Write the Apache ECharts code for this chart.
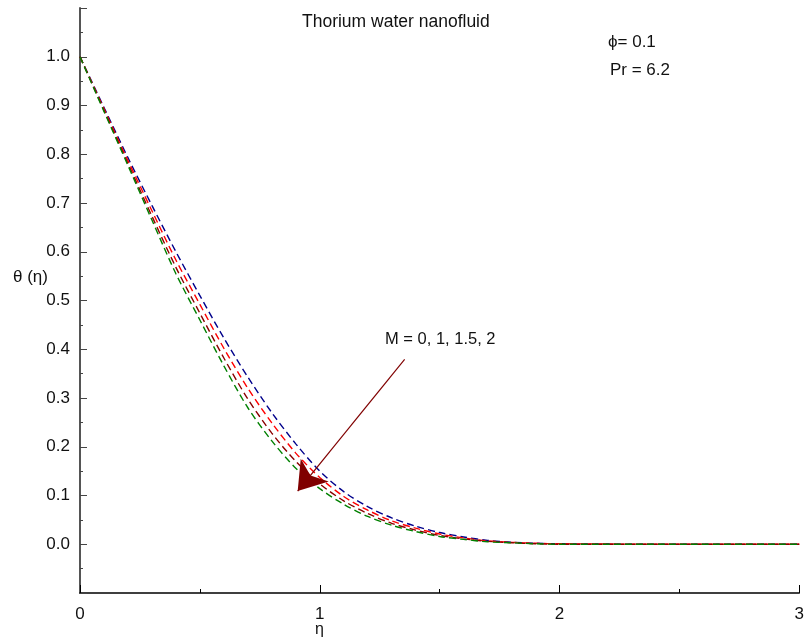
<!DOCTYPE html>
<html>
<head>
<meta charset="utf-8">
<script src="https://cdn.jsdelivr.net/npm/echarts@6/dist/echarts.min.js"></script>
<style>
html,body{margin:0;padding:0;background:#fff;}
#chart{width:807px;height:637px;}
</style>
</head>
<body>
<div id="chart"></div>
<script>
// ---- data ----
const eta = [0,0.1,0.2,0.3,0.4,0.5,0.6,0.7,0.8,0.9,1.0,1.1,1.2,1.3,1.4,1.5,1.6,1.7,1.8,1.9,2.0,2.5,3.0];
const thetaM0   = [1.0,0.896,0.793,0.695,0.600,0.510,0.423,0.343,0.270,0.206,0.150,0.108,0.077,0.054,0.037,0.024,0.015,0.008,0.004,0.002,0.001,0,0];
const thetaM1   = [1.0,0.893,0.787,0.684,0.583,0.492,0.402,0.320,0.249,0.187,0.137,0.098,0.070,0.048,0.033,0.021,0.013,0.007,0.004,0.002,0.001,0,0];
const thetaM15  = [1.0,0.890,0.781,0.673,0.568,0.474,0.382,0.298,0.228,0.170,0.124,0.089,0.063,0.043,0.029,0.018,0.011,0.006,0.003,0.001,0,0,0];
const thetaM2   = [1.0,0.888,0.777,0.665,0.555,0.460,0.366,0.280,0.212,0.156,0.114,0.082,0.057,0.039,0.026,0.016,0.010,0.005,0.003,0.001,0,0,0];
const seriesNames = ['M = 0','M = 1','M = 1.5','M = 2'];
const seriesColors = ['#00008B','#FF0000','#8B0000','#008000'];
const xTicks = [0,1,2,3];
const yTicks = [0.0,0.1,0.2,0.3,0.4,0.5,0.6,0.7,0.8,0.9,1.0];
const arrowFrom = [1.354, 0.379];
const arrowTo = [0.908, 0.109];

const FONT = 'Liberation Sans, Arial, sans-serif';
const chart = echarts.init(document.getElementById('chart'), null, {renderer:'canvas'});
const allSeries = [thetaM0, thetaM1, thetaM15, thetaM2];

const series = allSeries.map((vals, i) => ({
  name: seriesNames[i],
  type: 'line',
  data: eta.map((x, j) => [x, vals[j]]),
  symbol: 'none',
  smooth: 0.3,
  lineStyle: {color: seriesColors[i], width: 1.4, type: [7, 4]},
  z: 3,
  markLine: i === 0 ? {
    silent: true,
    symbol: ['none', 'arrow'],
    symbolSize: 27,
    label: {show: false},
    lineStyle: {color: '#800000', width: 1.2, type: 'solid'},
    itemStyle: {color: '#800000'},
    data: [[{coord: arrowFrom}, {coord: arrowTo}]],
    animation: false
  } : undefined
}));

chart.setOption({
  animation: false,
  backgroundColor: '#ffffff',
  grid: {left: 80, right: 7, top: 8, bottom: 44, containLabel: false},
  xAxis: {
    type: 'value', min: 0, max: 3, interval: 1,
    axisLine: {show: true, onZero: false, lineStyle: {color: '#000', width: 1.5}},
    axisTick: {show: true, inside: true, length: 8, lineStyle: {color: '#000'}},
    minorTick: {show: true, splitNumber: 2, length: 4, lineStyle: {color: '#000'}},
    splitLine: {show: false},
    axisLabel: {
      color: '#111', fontSize: 17, fontFamily: FONT, margin: 13,
      formatter: v => xTicks.includes(Math.round(v)) ? String(Math.round(v)) : ''
    }
  },
  yAxis: {
    type: 'value', min: -0.1, max: 1.1, interval: 0.1,
    axisLine: {show: true, onZero: false, lineStyle: {color: '#555', width: 2}},
    axisTick: {show: true, inside: true, length: 7, lineStyle: {color: '#444'}},
    minorTick: {show: true, splitNumber: 2, length: 3, lineStyle: {color: '#444'}},
    splitLine: {show: false},
    axisLabel: {
      color: '#111', fontSize: 17, fontFamily: FONT, margin: 10, padding: [8, 0, 0, 0],
      formatter: v => {
        const r = Math.round(v * 10) / 10;
        return yTicks.some(t => Math.abs(t - r) < 1e-6) ? r.toFixed(1) : '';
      }
    }
  },
  graphic: [
    {type: 'text', left: 302, top: 13, style: {text: 'Thorium water nanofluid', font: '17.5px ' + FONT, fill: '#111'}},
    {type: 'text', left: 608, top: 34, style: {text: 'ϕ= 0.1', font: '17px ' + FONT, fill: '#111'}},
    {type: 'text', left: 610, top: 62, style: {text: 'Pr = 6.2', font: '17px ' + FONT, fill: '#111'}},
    {type: 'text', left: 385, top: 331, style: {text: 'M = 0, 1, 1.5, 2', font: '16.5px ' + FONT, fill: '#111'}},
    {type: 'text', left: 13, top: 269, style: {text: 'θ (η)', font: '17px ' + FONT, fill: '#111'}},
    {type: 'text', left: 315, top: 622, style: {text: 'η', font: '16px ' + FONT, fill: '#111'}}
  ],
  series: series
});
</script>
</body>
</html>
